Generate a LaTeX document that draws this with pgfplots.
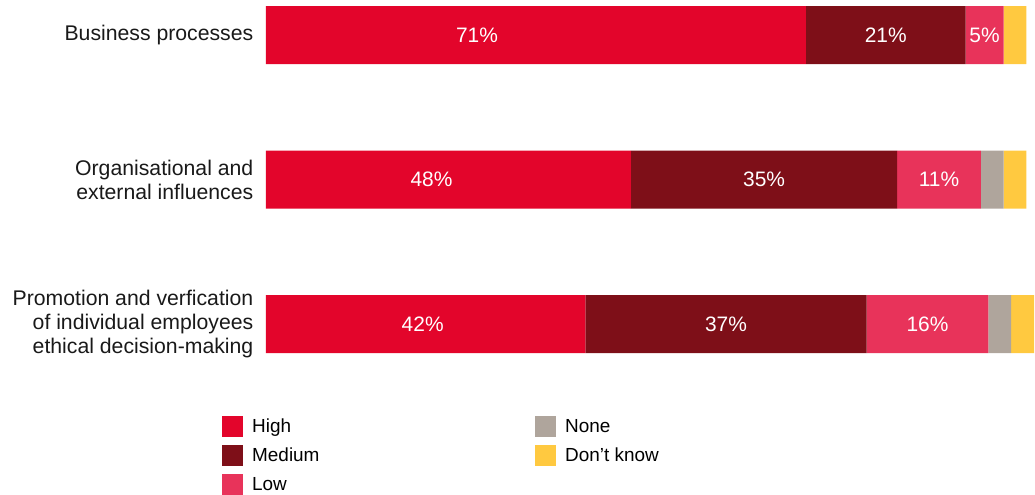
\documentclass[border=0pt]{standalone}
\usepackage{pgfplots}
\usepackage{pgfplotstable}
\pgfplotsset{compat=1.18}
\usepackage{fontspec}
\setmainfont{Liberation Sans}
\definecolor{cHigh}{HTML}{E3052B}
\definecolor{cMed}{HTML}{7E0F18}
\definecolor{cLow}{HTML}{E8335A}
\definecolor{cNone}{HTML}{AFA59C}
\definecolor{cDK}{HTML}{FFC940}
\pgfplotstableread{
c v dx
0 42 -3
1 48 -17
2 71 -59
}\highdata
\begin{document}
\begin{tikzpicture}
\path[use as bounding box] (-266bp,-142bp) rectangle (769bp,353bp);
\begin{axis}[
  at={(0,0)}, anchor=south west,
  scale only axis, width=768bp, height=346.8bp,
  xbar stacked, bar width=58bp,
  xmin=0, xmax=101, ymin=-0.2, ymax=2.2,
  axis line style={draw=none}, tick style={draw=none},
  xtick=\empty,
  ytick={0,1,2},
  yticklabels={{Promotion and verfication\\of individual employees\\ethical decision-making},{Organisational and\\external influences},{Business processes}},
  yticklabel style={align=right, font=\fontsize{21.3}{24}\selectfont, inner xsep=0pt, xshift=-12.5bp, text=black!90},
  /pgf/number format/assume math mode=true,
  point meta=explicit,
  every node near coord/.style={anchor=center, text=white, font=\fontsize{21}{23.5}\selectfont},
  legend columns=3, transpose legend,
  legend style={at={(-44bp,-63bp)}, anchor=north west, draw=none, fill=none,
    font=\fontsize{19}{21}\selectfont, row sep=8bp, inner sep=0pt,
    nodes={inner sep=0pt, anchor=west}},
  legend cell align=left,
  legend image code/.code={\fill[#1] (0bp,-10.5bp) rectangle (21bp,10.5bp);},
]
\addplot[fill=cHigh, draw=none,
  visualization depends on={\thisrow{dx} \as \dx},
  every node near coord/.append style={xshift=\dx bp},
  nodes near coords={\pgfmathprintnumber{\pgfplotspointmeta}\%}]
  table[x=v, y=c, meta=v] {\highdata};
\addplot[fill=cMed, draw=none, nodes near coords={\pgfmathprintnumber{\pgfplotspointmeta}\%}] coordinates {(37,0) [37] (35,1) [35] (21,2) [21]};
\addplot[fill=cLow, draw=none, nodes near coords={\pgfmathprintnumber{\pgfplotspointmeta}\%}] coordinates {(16,0) [16] (11,1) [11] (5,2) [5]};
\addplot[fill=cNone, draw=none] coordinates {(3,0) [3] (3,1) [3] (0,2) [0]};
\addplot[fill=cDK, draw=none] coordinates {(3,0) [3] (3,1) [3] (3,2) [3]};
\legend{\hspace{9bp}\makebox[283bp][l]{High},\hspace{9bp}\makebox[283bp][l]{Medium},\hspace{9bp}\makebox[283bp][l]{Low},\hspace{9bp}None,\hspace{9bp}Don’t know}
\end{axis}
\end{tikzpicture}
\end{document}
